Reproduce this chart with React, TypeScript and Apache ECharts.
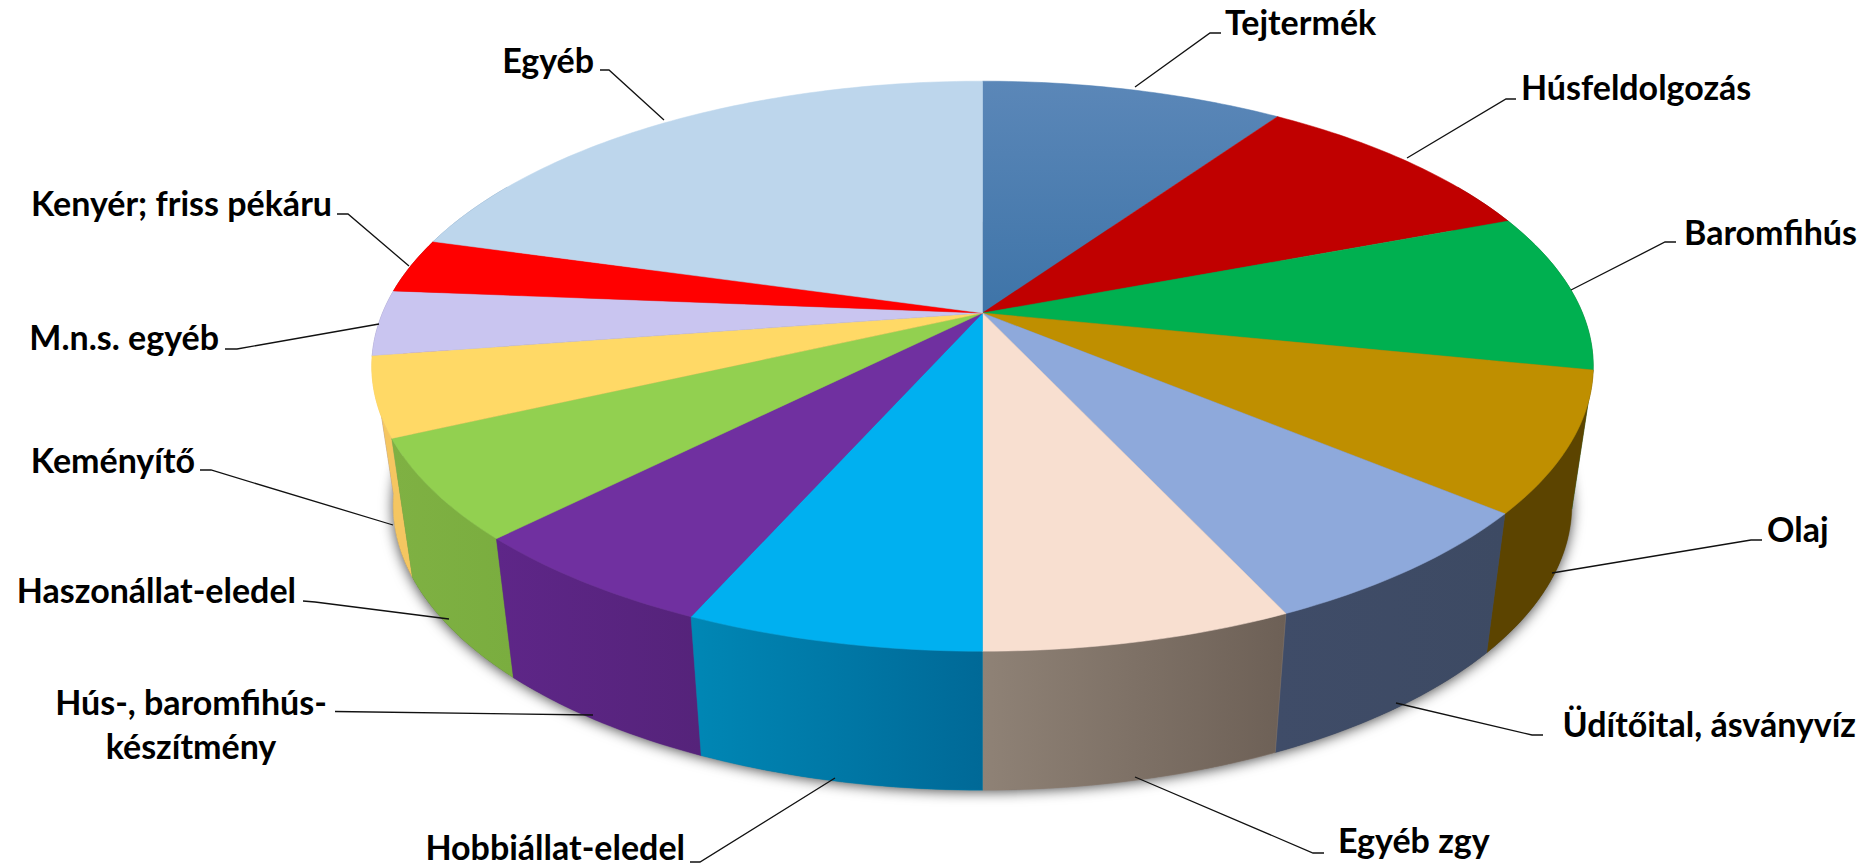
import React, { useEffect, useRef } from "react";
import * as echarts from "echarts";

const categories = [
  "Tejtermék", "Húsfeldolgozás", "Baromfihús", "Olaj", "Üdítőital, ásványvíz", "Egyéb zgy",
  "Hobbiállat-eledel", "Hús-, baromfihús-\nkészítmény", "Haszonállat-eledel", "Keményítő",
  "M.n.s. egyéb", "Kenyér; friss pékáru", "Egyéb",
];
const shares = [9.6, 9.6, 9.0, 7.9, 7.0, 6.9, 6.6, 5.8, 5.7, 4.5, 3.7, 3.1, 20.6];
const topColors = [
  "#4f7eb2", "#c00000", "#00b050", "#bf8f00", "#8ea9db", "#f8dfd0",
  "#00b0f0", "#7030a0", "#92d050", "#ffd966", "#c9c5f0", "#ff0000", "#bdd6ec",
];
const sideColors: [string, string][] = [
  ["#2f4d70", "#2f4d70"], ["#700000", "#700000"], ["#006a30", "#4d5a10"], ["#5c4400", "#5c4400"],
  ["#3f4c68", "#3d4a63"], ["#8f8276", "#6d6056"], ["#0087b5", "#006997"], ["#5e2688", "#55237a"],
  ["#7fb143", "#7aad3f"], ["#f5c661", "#f5c661"], ["#8a80a8", "#8a80a8"], ["#900000", "#900000"], ["#7090b0", "#7090b0"],
];

// label layout: text anchor and leader polyline
const labelLayout: { x: number; y: number; align: string; line: number[][] }[] = [
  { x: 1225, y: 21, align: "left", line: [[1135, 87], [1210, 33], [1221, 33]] },
  { x: 1521, y: 86, align: "left", line: [[1407, 158], [1506, 99], [1516, 99]] },
  { x: 1857, y: 231, align: "right", line: [[1571, 290], [1665, 242], [1676, 242]] },
  { x: 1767, y: 528, align: "left", line: [[1552, 573], [1751, 540], [1762, 540]] },
  { x: 1856, y: 723, align: "right", line: [[1396, 703], [1532, 735], [1543, 735]] },
  { x: 1338, y: 839, align: "left", line: [[1135, 777], [1313, 853], [1324, 853]] },
  { x: 685, y: 846, align: "right", line: [[835, 778], [700, 862], [690, 862]] },
  { x: 191, y: 723, align: "center", line: [[593, 715], [335, 711.5]] },
  { x: 296, y: 589, align: "right", line: [[449, 619], [315, 602], [303, 601]] },
  { x: 195, y: 459, align: "right", line: [[393, 525], [211, 470], [200, 470]] },
  { x: 219, y: 336, align: "right", line: [[379, 324], [237, 349], [225, 349]] },
  { x: 332, y: 202, align: "right", line: [[409, 266], [348, 214], [337, 214]] },
  { x: 594, y: 59, align: "right", line: [[664, 120], [609, 70], [600, 70]] },
];

const CX = 982.5, CY = 313, A = 600, B = 275.1, K = 0.1866;
const ELL_CY = 366, BOT_CY = 505, BOT_RX = 590, BOT_RY = 285, SX = 0.965;

function top(deg: number): number[] {
  const r = (deg * Math.PI) / 180;
  const X = Math.sin(r), Y = -Math.cos(r), d = 1 - K * Y;
  return [CX + (A * X) / d, CY + (B * Y) / d];
}
function bottom(deg: number): number[] {
  const [x, y] = top(deg);
  return [CX + (x - CX) * SX, BOT_CY + (y - ELL_CY)];
}
function arc(f: (d: number) => number[], a: number, b: number): number[][] {
  const n = Math.max(2, Math.ceil(Math.abs(b - a)));
  const pts: number[][] = [];
  for (let i = 0; i <= n; i++) pts.push(f(a + ((b - a) * i) / n));
  return pts;
}

const total = shares.reduce((s, v) => s + v, 0);
let acc = 0;
const sliceData = shares.map((v, i) => {
  const start = (acc / total) * 360;
  acc += v;
  return { value: [start, (acc / total) * 360, i], name: categories[i] };
});

function renderSlice(_p: unknown, api: any) {
  const a = api.value(0), b = api.value(1), i = api.value(2);
  const children: any[] = [];
  const sa = Math.max(a, 60), sb = Math.min(b, 300);
  if (sb > sa) {
    const pts = [...arc(top, sa, sb), ...arc(bottom, sb, sa)];
    const mid = (sa + sb) / 2;
    const [c1, c2] = sideColors[i];
    const fill = new echarts.graphic.LinearGradient(0, 0, 1, 0, [
      { offset: 0, color: c1 },
      { offset: 1, color: c2 },
    ]);
    children.push({
      type: "polygon",
      z2: 200 - Math.abs(mid - 180),
      shape: { points: pts },
      style: { fill, stroke: c1, lineWidth: 0.4 },
    });
  }
  const fillTop =
    i === 0
      ? new echarts.graphic.LinearGradient(0, 0, 0, 1, [
          { offset: 0, color: "#5b87b8" },
          { offset: 1, color: "#3e74a8" },
        ])
      : topColors[i];
  children.push({
    type: "polygon",
    z2: 1000,
    shape: { points: [[CX, CY], ...arc(top, a, b)] },
    style: { fill: fillTop, stroke: topColors[i], lineWidth: 0.5 },
  });
  return { type: "group", children };
}

function renderBase() {
  return {
    type: "ellipse",
    z2: 0,
    shape: { cx: CX, cy: BOT_CY + 1, rx: BOT_RX - 1, ry: BOT_RY - 1 },
    style: { fill: "#555", shadowBlur: 14, shadowColor: "rgba(0,0,0,0.75)", shadowOffsetY: 1 },
  };
}

export default function App() {
  const ref = useRef<HTMLDivElement>(null);
  useEffect(() => {
    document.body.style.margin = "0";
    const chart = echarts.init(ref.current!, undefined, { renderer: "svg" });
    const graphic: any[] = [];
    labelLayout.forEach((l, i) => {
      graphic.push({
        type: "polyline",
        shape: { points: l.line },
        style: { stroke: "#111", lineWidth: 1.3, fill: "none" },
        z: 20,
      });
      graphic.push({
        type: "text",
        x: l.x,
        y: l.y,
        z: 21,
        style: {
          text: categories[i],
          font: "bold 34px Lato",
          lineHeight: categories[i].includes("\n") ? 44 : 34,
          fill: "#000",
          align: l.align,
          verticalAlign: "middle",
        },
      });
    });
    chart.setOption({
      animation: false,
      backgroundColor: "#fff",
      graphic,
      series: [
        { type: "custom", coordinateSystem: "none", renderItem: renderBase, data: [[0]], silent: true, z: 1 },
        { type: "custom", coordinateSystem: "none", renderItem: renderSlice, data: sliceData, silent: true, z: 2 },
      ],
    });
    return () => chart.dispose();
  }, []);
  return <div ref={ref} style={{ width: 1874, height: 868 }} />;
}
